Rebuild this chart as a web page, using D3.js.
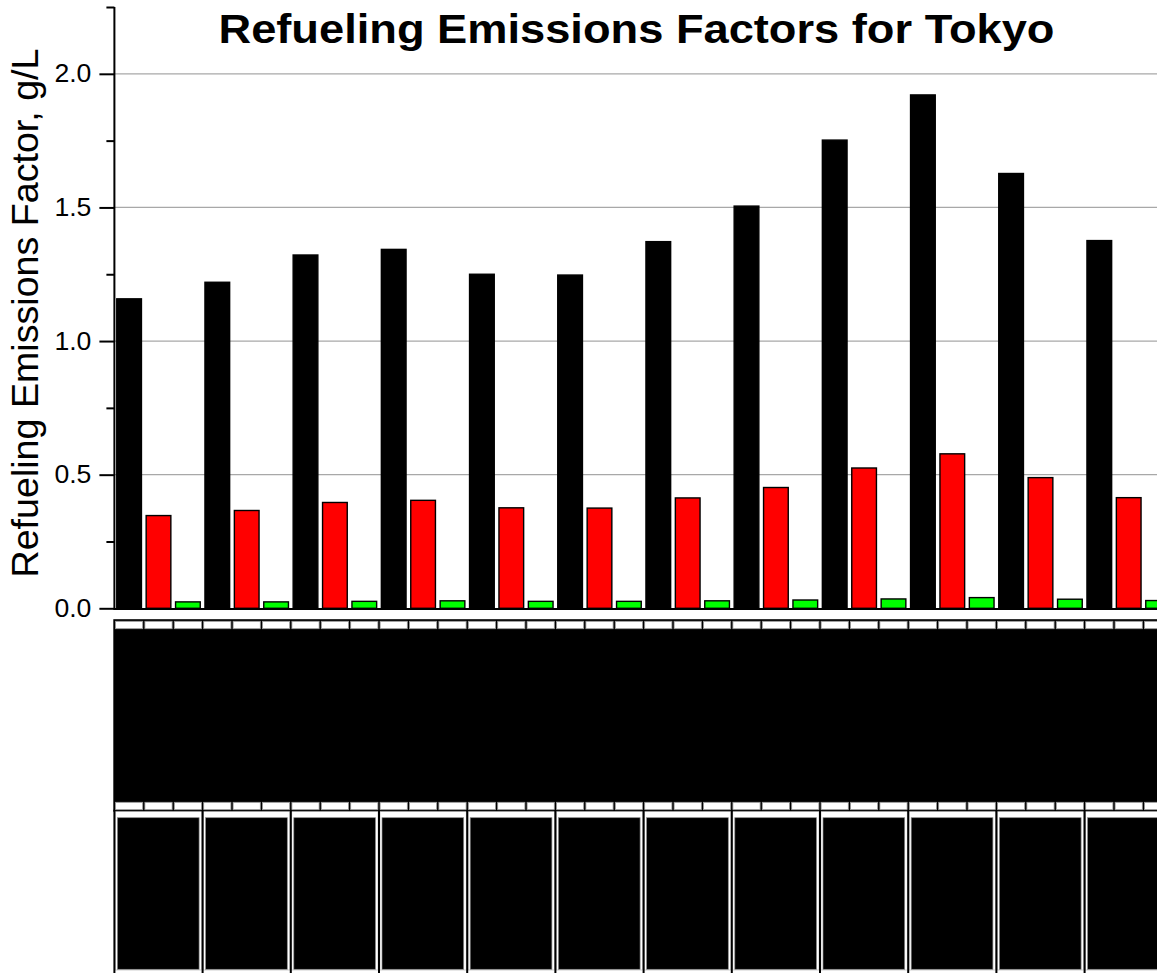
<!DOCTYPE html>
<html>
<head>
<meta charset="utf-8">
<script src="https://cdn.jsdelivr.net/npm/d3@7/dist/d3.min.js"></script>
<style>
  html, body { margin: 0; padding: 0; background: #fff; }
  svg { display: block; overflow: hidden; }
  text { font-family: "Liberation Sans", Arial, sans-serif; }
</style>
</head>
<body>
<svg id="chart" width="1157" height="973"></svg>
<script>
// Twelve category groups, three series per group
const categories = ["Jan", "Feb", "Mar", "Apr", "May", "Jun", "Jul", "Aug", "Sep", "Oct", "Nov", "Dec"];
const seriesNames = ["seriesA", "seriesB", "seriesC"];
const seriesColors = ["#000000", "#ff0000", "#00ff00"];

// Refueling emissions factor, g/L
const seriesA = [1.158, 1.220, 1.322, 1.343, 1.250, 1.247, 1.372, 1.505, 1.752, 1.921, 1.627, 1.376];
const seriesB = [0.347, 0.366, 0.396, 0.404, 0.376, 0.375, 0.413, 0.452, 0.525, 0.578, 0.489, 0.414];
const seriesC = [0.024, 0.024, 0.026, 0.028, 0.026, 0.026, 0.028, 0.031, 0.035, 0.040, 0.034, 0.029];

const yMajorTicks = [0, 0.5, 1.0, 1.5, 2.0];
const yMinorTicks = [0.25, 0.75, 1.25, 1.75, 2.25];
const yTickLabels = ["0.0", "0.5", "1.0", "1.5", "2.0"];

const titleText = "Refueling Emissions Factors for Tokyo";
const yTitleText = "Refueling Emissions Factor, g/L";

const svg = d3.select("#chart");

const plotLeft = 114.4, plotRight = 1172.8, plotTop = 7, plotBottom = 608.3;

const x0 = d3.scaleBand().domain(categories).range([plotLeft, plotRight]).paddingInner(0).paddingOuter(0);
const x1 = d3.scaleBand().domain(seriesNames).range([0, x0.bandwidth()]);
const xBar = d3.scaleBand().domain(seriesNames).range([0, x0.bandwidth()]).paddingInner(0.16).paddingOuter(0.08);
const y = d3.scaleLinear().domain([0, 2.25]).range([plotBottom, plotTop]);

const rows = categories.map((c, i) => ({
  cat: c,
  vals: [seriesA[i], seriesB[i], seriesC[i]]
}));

// horizontal gridlines
svg.append("g").selectAll("line").data(yMajorTicks.filter(d => d > 0)).join("line")
  .attr("x1", plotLeft).attr("x2", 1157)
  .attr("y1", d => y(d)).attr("y2", d => y(d))
  .attr("stroke", "#a8a8a8").attr("stroke-width", 1.2);

// bars
const gGroups = svg.append("g").selectAll("g").data(rows).join("g")
  .attr("transform", d => `translate(${x0(d.cat)},0)`);
gGroups.selectAll("rect").data(d => d.vals.map((v, k) => ({ s: seriesNames[k], v, k }))).join("rect")
  .attr("x", d => xBar(d.s))
  .attr("width", xBar.bandwidth())
  .attr("y", d => y(d.v))
  .attr("height", d => y(0) - y(d.v))
  .attr("fill", d => seriesColors[d.k])
  .attr("stroke", "#000").attr("stroke-width", 1.4);

// y axis
const yAxis = d3.axisLeft(y).tickValues(yMajorTicks).tickSize(15).tickFormat((d, i) => yTickLabels[i]);
const gy = svg.append("g").attr("transform", `translate(${plotLeft},0)`).call(yAxis);
gy.select(".domain").attr("stroke-width", 2).attr("d", `M0,${plotTop}V${plotBottom + 1}`);
gy.selectAll(".tick line").attr("stroke-width", 2);
gy.selectAll(".tick text").attr("font-size", 25).attr("x", -23).attr("fill", "#000")
  .attr("textLength", 37).attr("lengthAdjust", "spacingAndGlyphs")
  .style("font-family", "'Liberation Sans', Arial, sans-serif");
const yAxisMinor = d3.axisLeft(y).tickValues(yMinorTicks).tickSize(8).tickFormat("");
const gym = svg.append("g").attr("transform", `translate(${plotLeft},0)`).call(yAxisMinor);
gym.select(".domain").remove();
gym.selectAll(".tick line").attr("stroke-width", 2);

// x baseline
svg.append("line").attr("x1", plotLeft - 1).attr("x2", 1157)
  .attr("y1", y(0) + 0.6).attr("y2", y(0) + 0.6)
  .attr("stroke", "#000").attr("stroke-width", 2);

// category label band beneath the axis
const slots = [];
rows.forEach(r => seriesNames.forEach(s => slots.push({ x: x0(r.cat) + x1(s), w: x1.bandwidth() })));

const band = svg.append("g");
band.append("rect").attr("x", plotLeft - 1.1).attr("y", 619.2)
  .attr("width", 1157).attr("height", 811.7 - 619.2).attr("fill", "#000");

[621.3, 802.3].forEach(top => {
  band.append("g").selectAll("rect").data(slots).join("rect")
    .attr("x", d => d.x + 1.1).attr("y", top)
    .attr("width", d => d.w - 2.2).attr("height", 7.4)
    .attr("fill", "#fff").attr("stroke", "#9a9a9a").attr("stroke-width", 0.8);
});

// group label cells
const cells = band.append("g").selectAll("g").data(rows).join("g")
  .attr("transform", d => `translate(${x0(d.cat)},0)`);
cells.append("rect")
  .attr("x", 1).attr("y", 811.7)
  .attr("width", x0.bandwidth() - 2).attr("height", 970 - 811.7)
  .attr("fill", "#fff").attr("stroke", "#b0b0b0").attr("stroke-width", 0.6);
cells.append("rect")
  .attr("x", 3).attr("y", 817.7)
  .attr("width", x0.bandwidth() - 6.5).attr("height", 969.3 - 817.7)
  .attr("fill", "#000").attr("stroke", "#8a8a8a").attr("stroke-width", 0.7);

// group separators
const bounds = categories.map(c => x0(c)).concat([plotRight]);
band.append("g").selectAll("line").data(bounds).join("line")
  .attr("x1", d => d).attr("x2", d => d)
  .attr("y1", 809.7).attr("y2", 973)
  .attr("stroke", "#000").attr("stroke-width", 2);

// titles
svg.append("text").attr("x", 636.5).attr("y", 42.7)
  .attr("text-anchor", "middle").attr("font-size", 41).attr("font-weight", "bold")
  .attr("textLength", 836).attr("lengthAdjust", "spacingAndGlyphs")
  .text(titleText);

svg.append("text").attr("transform", "translate(38,313) rotate(-90)")
  .attr("text-anchor", "middle").attr("font-size", 37)
  .attr("textLength", 529).attr("lengthAdjust", "spacingAndGlyphs")
  .text(yTitleText);
</script>
</body>
</html>
